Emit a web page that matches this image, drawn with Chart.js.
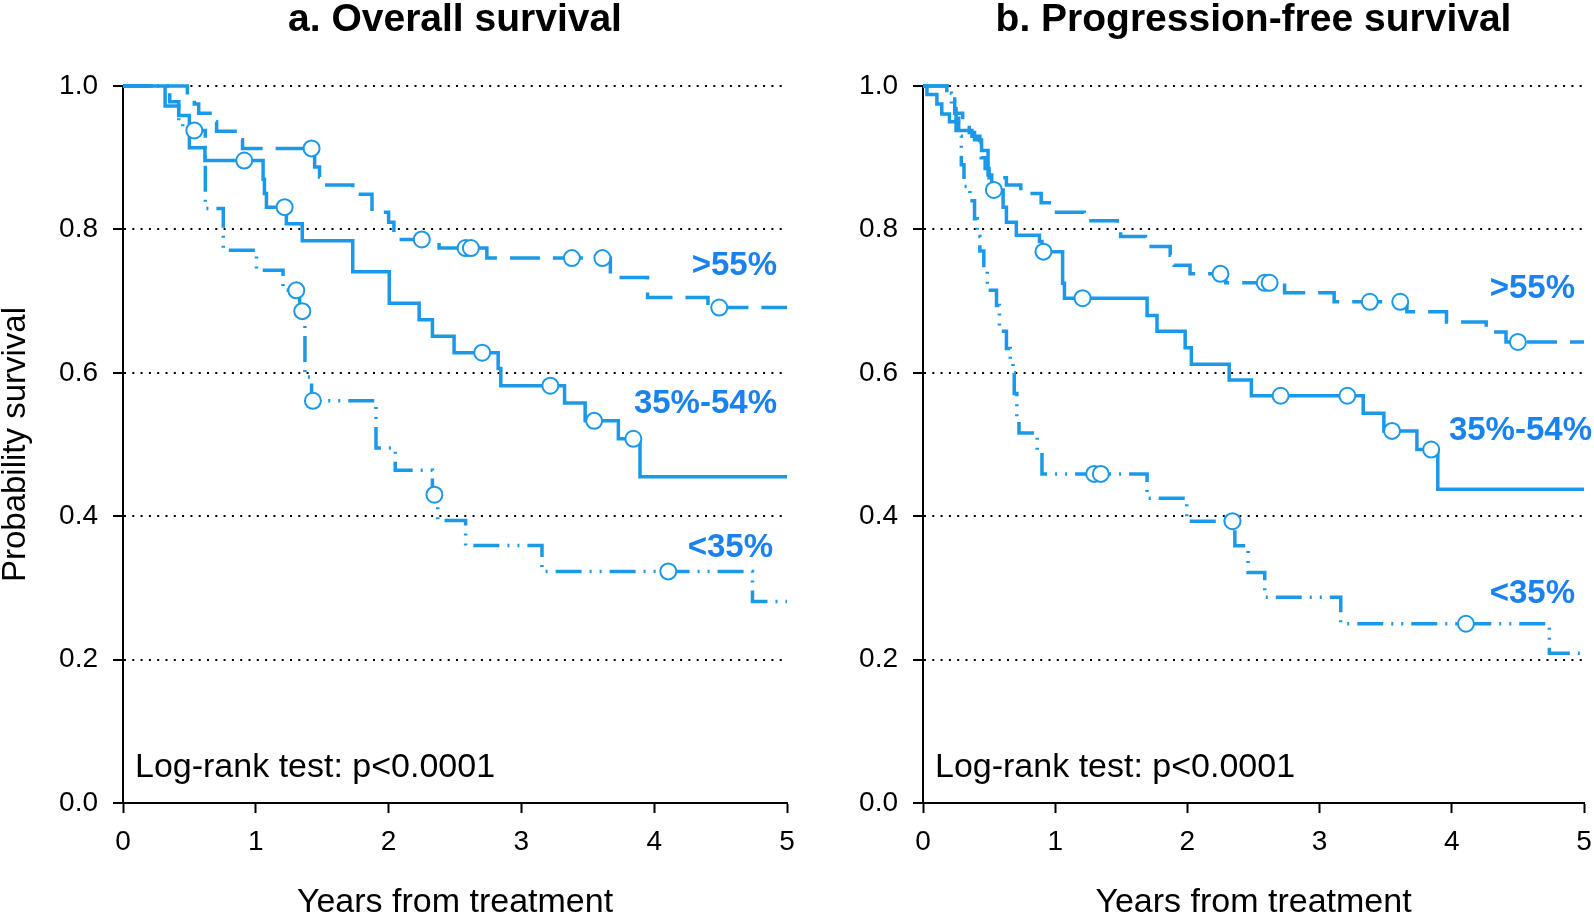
<!DOCTYPE html>
<html><head><meta charset="utf-8">
<script src="https://cdn.jsdelivr.net/npm/chart.js@4.4.1/dist/chart.umd.min.js"></script>
<style>
html,body{margin:0;padding:0;background:#fff;overflow:hidden}
#wrap{position:relative;width:1594px;height:914px;background:#fff}
canvas{position:absolute;top:0}
</style></head><body>
<div id="wrap">
<canvas id="cA" width="797" height="914" style="left:0"></canvas>
<canvas id="cB" width="797" height="914" style="left:797px"></canvas>
</div>
<script>
// ---------- tick labels ----------
const xTickValues = [0, 1, 2, 3, 4, 5];
const yTickValues = [0, 0.2, 0.4, 0.6, 0.8, 1.0];
const groupLabels = ['>55%', '35%-54%', '<35%'];
const panelTitles = ['a. Overall survival', 'b. Progression-free survival'];
const xTitle = 'Years from treatment';
const yTitle = 'Probability survival';
const logRankText = 'Log-rank test: p<0.0001';

// ---------- a. Overall survival ----------
const osHighTimes = [0, 0.485, 0.537, 0.57, 0.655, 0.705, 0.88, 0.9, 1.443, 1.48, 1.5, 1.73, 1.875, 2.0, 2.04, 2.38, 2.74, 3.67, 3.95, 4.405, 5];
const osHighSurv  = [1, 0.987, 0.975, 0.962, 0.95, 0.937, 0.925, 0.913, 0.887, 0.873, 0.862, 0.849, 0.824, 0.81, 0.786, 0.774, 0.760, 0.733, 0.705, 0.691, 0.691];
const osHighCensored = [1.42, 2.25, 2.58, 2.62, 3.38, 3.61, 4.49];

const osMidTimes = [0, 0.317, 0.42, 0.5, 0.617, 1.055, 1.065, 1.08, 1.23, 1.35, 1.73, 2.005, 2.23, 2.33, 2.493, 2.825, 2.845, 3.325, 3.48, 3.73, 3.893, 5];
const osMidSurv  = [1, 0.972, 0.959, 0.914, 0.896, 0.87, 0.85, 0.831, 0.808, 0.784, 0.741, 0.697, 0.674, 0.651, 0.628, 0.606, 0.582, 0.558, 0.533, 0.508, 0.455, 0.455];
const osMidCensored = [0.913, 1.217, 2.705, 3.218, 3.548, 3.843];

const osLowTimes = [0, 0.352, 0.42, 0.45, 0.62, 0.755, 1.005, 1.205, 1.33, 1.37, 1.42, 1.905, 2.05, 2.33, 2.37, 2.58, 3.155, 4.74, 5];
const osLowSurv  = [1, 0.978, 0.95, 0.938, 0.829, 0.771, 0.743, 0.715, 0.686, 0.594, 0.561, 0.495, 0.464, 0.43, 0.394, 0.359, 0.323, 0.281, 0.281];
const osLowCensored = [0.537, 1.305, 1.35, 1.43, 2.345, 4.106];

// ---------- b. Progression-free survival ----------
const pfsHighTimes = [0, 0.18, 0.24, 0.3, 0.35, 0.39, 0.44, 0.47, 0.5, 0.631, 0.74, 0.894, 0.98, 1.22, 1.47, 1.495, 1.683, 1.87, 1.9, 2.02, 2.29, 2.735, 3.11, 3.66, 3.96, 4.26, 4.41, 5];
const pfsHighSurv  = [1, 0.985, 0.962, 0.95, 0.935, 0.925, 0.9, 0.885, 0.872, 0.862, 0.85, 0.837, 0.824, 0.812, 0.804, 0.79, 0.776, 0.764, 0.75, 0.738, 0.7255, 0.7116, 0.699, 0.685, 0.671, 0.657, 0.643, 0.643];
const pfsHighCensored = [2.25, 2.585, 2.622, 3.38, 3.61, 4.5];

const pfsMidTimes = [0, 0.03, 0.105, 0.142, 0.2, 0.25, 0.37, 0.43, 0.443, 0.492, 0.52, 0.606, 0.631, 0.706, 0.881, 0.9, 1.056, 1.07, 1.695, 1.77, 1.983, 2.03, 2.316, 2.484, 3.33, 3.486, 3.736, 3.894, 5];
const pfsMidSurv  = [1, 0.988, 0.975, 0.961, 0.95, 0.938, 0.93, 0.924, 0.91, 0.876, 0.855, 0.831, 0.81, 0.792, 0.783, 0.769, 0.725, 0.704, 0.680, 0.658, 0.635, 0.612, 0.59, 0.568, 0.5435, 0.519, 0.493, 0.4375, 0.4375];
const pfsMidCensored = [0.536, 0.911, 1.207, 2.705, 3.21, 3.548, 3.844];

const pfsLowTimes = [0, 0.2, 0.215, 0.25, 0.27, 0.29, 0.31, 0.355, 0.39, 0.41, 0.43, 0.46, 0.486, 0.556, 0.578, 0.631, 0.66, 0.681, 0.69, 0.71, 0.726, 0.864, 0.9, 1.695, 1.995, 2.359, 2.459, 2.585, 3.16, 4.738, 5];
const pfsLowSurv  = [1, 0.99, 0.975, 0.955, 0.93, 0.89, 0.86, 0.84, 0.815, 0.79, 0.77, 0.745, 0.715, 0.694, 0.658, 0.634, 0.615, 0.60, 0.571, 0.537, 0.516, 0.492, 0.459, 0.425, 0.393, 0.3587, 0.3215, 0.287, 0.25, 0.209, 0.209];
const pfsLowCensored = [1.295, 1.345, 2.341, 4.107];

// ---------- styling ----------
const FONT = "'Liberation Sans', Arial, Helvetica, sans-serif";
const LINE_COLOR = '#1b98e8';
const LABEL_COLOR = '#1a82ee';
const DASHES = [[30, 13], [], [26, 8, 2, 8, 2, 8]];

function stepAt(T, S, t) {
  let v = S[0];
  for (let i = 0; i < T.length; i++) if (T[i] <= t) v = S[i];
  return v;
}
function curveData(T, S) { return T.map((t, i) => ({x: t, y: S[i]})); }
function censData(T, S, C) { return C.map(t => ({x: t, y: stepAt(T, S, t)})); }

const textPlugin = {
  id: 'texts',
  afterDraw(chart, args, o) {
    const ctx = chart.ctx, ca = chart.chartArea;
    const cx = (ca.left + ca.right) / 2;
    ctx.save();
    ctx.fillStyle = '#000';
    ctx.textBaseline = 'alphabetic';
    ctx.textAlign = 'center';
    ctx.font = 'bold 39px ' + FONT;
    ctx.fillText(o.title, cx, 31);
    ctx.font = '34px ' + FONT;
    ctx.fillText(xTitle, cx, 912);
    ctx.textAlign = 'left';
    ctx.font = '34px ' + FONT;
    ctx.fillText(logRankText, ca.left + 12, 777);
    if (o.yTitle) {
      ctx.save();
      ctx.translate(16, (ca.top + ca.bottom) / 2);
      ctx.rotate(-Math.PI / 2);
      ctx.textAlign = 'center';
      ctx.textBaseline = 'middle';
      ctx.font = '33px ' + FONT;
      ctx.fillText(yTitle, 0, 0);
      ctx.restore();
    }
    ctx.fillStyle = LABEL_COLOR;
    ctx.font = 'bold 33px ' + FONT;
    ctx.textAlign = 'right';
    groupLabels.forEach((lab, i) => {
      ctx.fillText(lab, o.labelPos[i][0], o.labelPos[i][1]);
    });
    ctx.restore();
  }
};

function makePanel(id, series, opt) {
  const datasets = [];
  series.forEach((s, i) => {
    datasets.push({
      type: 'line', data: censData(s.T, s.S, s.C), showLine: false, order: 0,
      pointRadius: 8, pointBorderWidth: 2, pointBackgroundColor: '#fff',
      pointBorderColor: LINE_COLOR, pointHoverRadius: 8, clip: 12
    });
  });
  series.forEach((s, i) => {
    datasets.push({
      type: 'line', data: curveData(s.T, s.S), stepped: 'before', order: 1,
      borderColor: LINE_COLOR, borderWidth: 3.5, borderDash: DASHES[i],
      borderCapStyle: 'butt', borderJoinStyle: 'miter',
      pointRadius: 0, pointHoverRadius: 0, fill: false, tension: 0, clip: 8
    });
  });
  return new Chart(document.getElementById(id), {
    type: 'line',
    data: {datasets},
    plugins: [textPlugin],
    options: {
      responsive: false, devicePixelRatio: 1, animation: false, events: [],
      layout: {padding: {top: 86, right: opt.rightPad, left: 0, bottom: 0}},
      plugins: {legend: {display: false}, tooltip: {enabled: false}, title: {display: false},
        texts: {title: opt.title, yTitle: opt.yTitle, labelPos: opt.labelPos}},
      scales: {
        x: {
          type: 'linear', min: 0, max: 5,
          afterBuildTicks: a => { a.ticks = xTickValues.map(v => ({value: v})); },
          ticks: {font: {size: 28, family: FONT}, color: '#000', padding: 12, maxRotation: 0, autoSkip: false,
            callback: v => String(v)},
          grid: {drawOnChartArea: false, drawTicks: true, tickLength: 10, tickColor: '#000', tickWidth: 2},
          border: {display: true, color: '#000', width: 2},
          afterFit: a => { a.height = 111; a.paddingLeft = 0; a.paddingRight = 0; }
        },
        y: {
          type: 'linear', min: 0, max: 1,
          afterBuildTicks: a => { a.ticks = yTickValues.map(v => ({value: v})); },
          ticks: {font: {size: 28, family: FONT}, color: '#000', padding: 15, callback: v => Number(v).toFixed(1)},
          grid: {
            color: c => (c.tick && c.tick.value === 0) ? 'rgba(0,0,0,0)' : '#000',
            lineWidth: 2, drawTicks: true, tickLength: 10, tickColor: '#000', tickWidth: 2, tickBorderDash: []
          },
          border: {display: true, color: '#000', width: 2, dash: [2, 6.3]},
          afterFit: a => { a.width = opt.yWidth; a.paddingTop = 0; a.paddingBottom = 0; }
        }
      }
    }
  });
}

makePanel('cA', [
  {T: osHighTimes, S: osHighSurv, C: osHighCensored},
  {T: osMidTimes, S: osMidSurv, C: osMidCensored},
  {T: osLowTimes, S: osLowSurv, C: osLowCensored}
], {title: panelTitles[0], yTitle: true, yWidth: 123, rightPad: 8,
    labelPos: [[777, 275], [777, 413], [773, 557]]});

makePanel('cB', [
  {T: pfsHighTimes, S: pfsHighSurv, C: pfsHighCensored},
  {T: pfsMidTimes, S: pfsMidSurv, C: pfsMidCensored},
  {T: pfsLowTimes, S: pfsLowSurv, C: pfsLowCensored}
], {title: panelTitles[1], yTitle: false, yWidth: 126, rightPad: 6,
    labelPos: [[778, 298], [795, 440], [778, 603]]});
</script>
</body></html>
